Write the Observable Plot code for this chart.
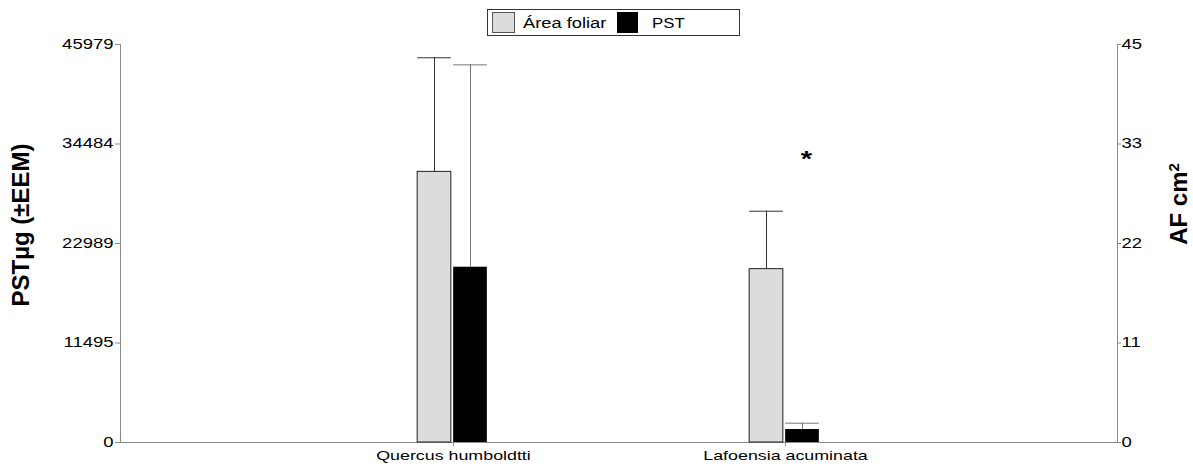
<!DOCTYPE html>
<html><head><meta charset="utf-8">
<script src="https://cdn.jsdelivr.net/npm/d3@7"></script>
<script src="https://cdn.jsdelivr.net/npm/@observablehq/plot@0.6"></script>
<style>
html,body{margin:0;padding:0;background:#fff;}
#chart{position:relative;width:1193px;height:467px;}
</style></head><body><div id="chart"></div>
<script>
// ---- data ----
const categories = ["Quercus humboldtti", "Lafoensia acuminata"];
const seriesNames = ["Área foliar", "PST"];
const areaMean = [30.6, 19.6];      // AF cm² (right axis)
const areaErr  = [12.9, 6.55];
const pstMean  = [20250, 1500];     // PST µg (left axis)
const pstErr   = [23380, 730];
const starLevel = [null, 32800];    // "*" significance marker (PST units)
const pstMax = 45979;
const afMax = 45;
const pstTicks = [0, 11494.75, 22989.5, 34484.25, 45979];
const pstTickLabels = ["0", "11495", "22989", "34484", "45979"];
const afTickLabels  = ["0", "11", "22", "33", "45"];
const leftTitle = "PSTµg (±EEM)";
const rightTitle = "AF cm";

// ---- build tables ----
const k = pstMax / afMax;
const area = categories.map((c, i) => ({cat: c, v: areaMean[i] * k, hi: (areaMean[i] + areaErr[i]) * k}));
const pst  = categories.map((c, i) => ({cat: c, v: pstMean[i], hi: pstMean[i] + pstErr[i]}));
const stars = categories.map((c, i) => ({cat: c, y: starLevel[i]})).filter(d => d.y != null);

const W = 1193, H = 467, ML = 120, MR = 76, MT = 44, MB = 25;
const half = (W - ML - MR) / 3 / 2;
const axisGrey = "#8a8a8a";
const FONT = "'Liberation Sans', Arial, sans-serif";

const chart = Plot.plot({
  width: W, height: H,
  marginLeft: ML, marginRight: MR, marginTop: MT, marginBottom: MB,
  style: {fontFamily: FONT, fontSize: "14px", color: "#000", background: "#fff"},
  x: {domain: categories, paddingInner: 0, paddingOuter: 0.5, axis: null},
  y: {domain: [0, pstMax], axis: null},
  marks: [
    Plot.frame({anchor: "left", stroke: axisGrey}),
    Plot.frame({anchor: "right", stroke: axisGrey}),
    Plot.frame({anchor: "bottom", stroke: axisGrey}),
    Plot.barY(area, {x: "cat", y: "v", fill: "#dcdcdc", stroke: "#222", strokeWidth: 1, insetLeft: half - 36, insetRight: half + 2}),
    Plot.barY(pst, {x: "cat", y: "v", fill: "#000", insetLeft: half, insetRight: half - 34}),
    Plot.ruleX(area, {x: "cat", y1: "v", y2: "hi", dx: -19, stroke: "#333"}),
    Plot.tickY(area, {x: "cat", y: "hi", stroke: "#333", insetLeft: half - 36, insetRight: half + 2}),
    Plot.ruleX(pst, {x: "cat", y1: "v", y2: "hi", dx: 17, stroke: "#777"}),
    Plot.tickY(pst, {x: "cat", y: "hi", stroke: "#777", insetLeft: half, insetRight: half - 34}),
    Plot.text(stars, {x: "cat", y: "y", text: () => "*", dx: 21, fontSize: 22, fontWeight: "bold", lineAnchor: "middle"}),
    Plot.axisY({ticks: pstTicks, tickFormat: d => pstTickLabels[pstTicks.indexOf(d)], tickSize: 5, tickPadding: 2, stroke: axisGrey, fill: "#000", label: null}),
    Plot.axisY({anchor: "right", ticks: pstTicks, tickFormat: d => afTickLabels[pstTicks.indexOf(d)], tickSize: 3, tickPadding: 1, stroke: axisGrey, fill: "#000", label: null}),
    Plot.axisX({tickSize: 4, tickPadding: 4, stroke: axisGrey, fill: "#000", label: null, fontSize: 13.5})
  ]
});
document.getElementById("chart").appendChild(chart);

// horizontally stretched look of the original text
const svg = d3.select(chart);
svg.selectAll("text").each(function () {
  const w = this.getComputedTextLength();
  if (w > 0) { this.setAttribute("textLength", w * 1.32); this.setAttribute("lengthAdjust", "spacingAndGlyphs"); }
});

// axis titles
svg.append("text")
  .attr("transform", "translate(29,225) rotate(-90)")
  .attr("text-anchor", "middle")
  .attr("font-family", FONT)
  .attr("font-weight", "bold").attr("font-size", 24).attr("fill", "#000")
  .text(leftTitle);
const rt = svg.append("text")
  .attr("transform", "translate(1187,204) rotate(-90)")
  .attr("text-anchor", "middle")
  .attr("font-family", FONT)
  .attr("font-weight", "bold").attr("font-size", 24).attr("fill", "#000");
rt.append("tspan").text(rightTitle);
rt.append("tspan").attr("baseline-shift", "super").attr("font-size", 15).text("2");

// legend
const lg = svg.append("g").attr("font-family", FONT).attr("font-size", 15).attr("fill", "#000").attr("text-anchor", "start");
lg.append("rect").attr("x", 487.5).attr("y", 9.5).attr("width", 252).attr("height", 26).attr("fill", "#fff").attr("stroke", "#333");
lg.append("rect").attr("x", 492.5).attr("y", 12.5).attr("width", 22).attr("height", 20).attr("fill", "#dcdcdc").attr("stroke", "#555");
lg.append("rect").attr("x", 617).attr("y", 12).attr("width", 21).attr("height", 21).attr("fill", "#000");
lg.append("text").attr("transform", "translate(523,28) scale(1.22,1)").text(seriesNames[0]);
lg.append("text").attr("transform", "translate(652,28) scale(1.12,1)").text(seriesNames[1]);
</script>
</body></html>
